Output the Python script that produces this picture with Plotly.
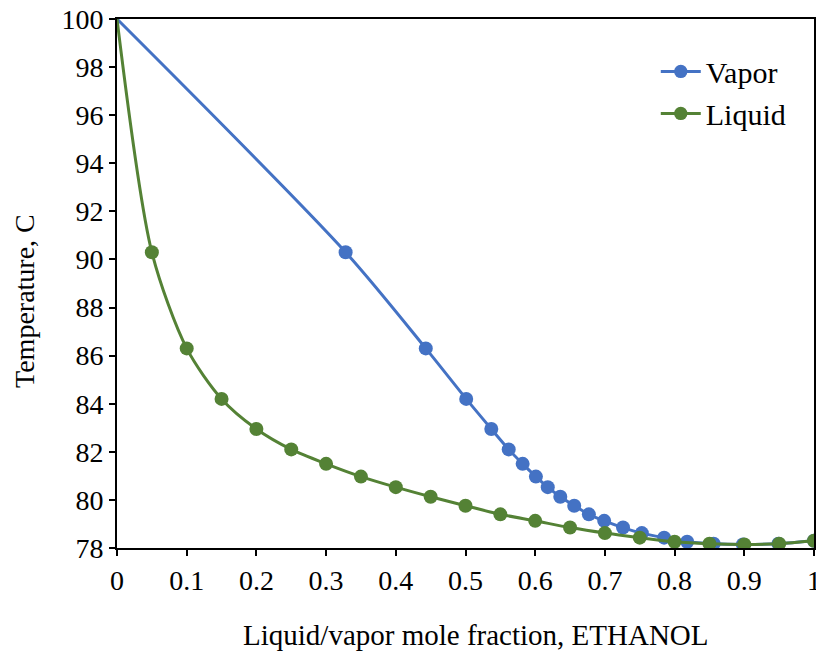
import plotly.graph_objects as go

temperature = [100.0, 90.3, 86.3, 84.2, 82.95, 82.1, 81.5, 80.97, 80.53, 80.13, 79.76,
               79.4, 79.13, 78.85, 78.62, 78.43, 78.26, 78.18, 78.15, 78.18, 78.3]
liquid_x = [0.0, 0.05, 0.10, 0.15, 0.20, 0.25, 0.30, 0.35, 0.40, 0.45, 0.50,
            0.55, 0.60, 0.65, 0.70, 0.75, 0.80, 0.85, 0.90, 0.95, 1.0]
vapor_x = [0.0, 0.328, 0.443, 0.501, 0.537, 0.562, 0.582, 0.601, 0.618, 0.636, 0.656,
           0.677, 0.699, 0.726, 0.753, 0.785, 0.818, 0.856, 0.898, 0.949, 1.0]
x_ticks = [0, 0.1, 0.2, 0.3, 0.4, 0.5, 0.6, 0.7, 0.8, 0.9, 1]
y_ticks = [78, 80, 82, 84, 86, 88, 90, 92, 94, 96, 98, 100]
x_title = "Liquid/vapor mole fraction, ETHANOL"
y_title = "Temperature, C"

BLUE = "#4472C4"
GREEN = "#548235"
FONT = "Liberation Serif"

sizes = [0] + [14] * (len(temperature) - 1)

fig = go.Figure()
fig.add_trace(go.Scatter(
    x=vapor_x, y=temperature, name="Vapor", mode="lines+markers",
    line=dict(color=BLUE, width=3, shape="spline", smoothing=0.8),
    marker=dict(color=BLUE, size=sizes, opacity=1, line=dict(width=0)),
))
fig.add_trace(go.Scatter(
    x=liquid_x, y=temperature, name="Liquid", mode="lines+markers",
    line=dict(color=GREEN, width=3, shape="spline", smoothing=0.8),
    marker=dict(color=GREEN, size=sizes, opacity=1, line=dict(width=0)),
))

axis_common = dict(
    showgrid=False, zeroline=False, showline=True, linecolor="black", linewidth=2,
    mirror=True, ticks="outside", ticklen=6, tickwidth=2, tickcolor="black",
    tickfont=dict(family=FONT, size=28, color="black"),
    ticklabeloverflow="allow", automargin=False,
)
fig.update_xaxes(range=[0, 1], tickvals=x_ticks, ticktext=[str(v) for v in x_ticks],
                 **axis_common)
fig.update_yaxes(range=[78, 100], tickvals=y_ticks, **axis_common)

fig.add_annotation(text=x_title, xref="paper", yref="paper", x=0.515, y=-0.1645,
                   xanchor="center", yanchor="middle", showarrow=False,
                   font=dict(family=FONT, size=29, color="black"))
fig.add_annotation(text=y_title, xref="paper", yref="paper", x=-0.132, y=0.467,
                   xanchor="center", yanchor="middle", showarrow=False, textangle=-90,
                   font=dict(family=FONT, size=28, color="black"))

fig.update_layout(
    width=816, height=655,
    margin=dict(l=117, r=2, t=19, b=107, autoexpand=False),
    paper_bgcolor="white", plot_bgcolor="white",
    font=dict(family=FONT, color="black"),
    showlegend=True,
    legend=dict(x=0.773, y=0.95, xanchor="left", yanchor="top",
                font=dict(family=FONT, size=30, color="black"),
                bgcolor="rgba(0,0,0,0)", itemwidth=40),
)

fig.write_html("out.html")
